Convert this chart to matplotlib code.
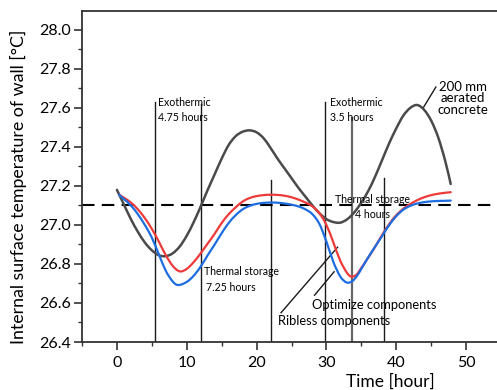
import matplotlib
matplotlib.use("Agg")
import matplotlib.pyplot as plt
from matplotlib.ticker import MultipleLocator
from matplotlib.path import Path
from matplotlib.patches import PathPatch

plt.rcParams['font.family'] = ['Lato', 'DejaVu Sans']

# ---- data ----
concrete_x = [0, 1, 2, 3, 4, 5, 6, 7, 8, 9, 10, 11, 12, 13, 14, 15, 16, 17, 18, 19, 20, 21, 22, 23,
              24, 25, 26, 27, 28, 29, 30, 31, 32, 33, 34, 35, 36, 37, 38, 39, 40, 41, 42, 43, 44, 45,
              46, 47, 47.8]
concrete_y = [27.18, 27.105, 27.03, 26.965, 26.91, 26.87, 26.845, 26.84, 26.855, 26.89, 26.945, 27.015,
              27.095, 27.18, 27.26, 27.34, 27.41, 27.455, 27.478, 27.485, 27.475, 27.445, 27.395, 27.34,
              27.29, 27.24, 27.19, 27.145, 27.10, 27.06, 27.03, 27.015, 27.012, 27.03, 27.065, 27.115,
              27.175, 27.25, 27.335, 27.42, 27.495, 27.56, 27.60, 27.615, 27.59, 27.535, 27.45, 27.33, 27.21]

ribless_x = [0.3, 1, 2, 3, 4, 5, 6, 7, 8, 9, 10, 11, 12, 13, 14, 15, 16, 17, 18, 19, 20, 21, 22, 23, 24,
             25, 26, 27, 28, 29, 30, 31, 32, 33, 33.6, 34.3, 35, 36, 37, 38, 39, 40, 41, 42, 43, 44, 45,
             46, 47, 47.8]
ribless_y = [27.155, 27.14, 27.115, 27.08, 27.035, 26.98, 26.915, 26.845, 26.79, 26.762, 26.775, 26.81,
             26.855, 26.905, 26.955, 27.01, 27.055, 27.09, 27.12, 27.138, 27.148, 27.153, 27.155, 27.154,
             27.15, 27.142, 27.13, 27.115, 27.095, 27.06, 27.0, 26.91, 26.815, 26.752, 26.735, 26.745, 26.78,
             26.833, 26.89, 26.95, 27.005, 27.05, 27.083, 27.107, 27.127, 27.142, 27.153, 27.16, 27.165, 27.168]

optimize_x = [0.3, 1, 2, 3, 4, 5, 6, 7, 8, 8.8, 10, 11, 12, 13, 14, 15, 16, 17, 18, 19, 20, 21, 22, 23,
              24, 25, 26, 27, 28, 29, 30, 31, 32, 32.9, 33.7, 34.4, 35, 36, 37, 38, 39, 40, 41, 42, 43,
              44, 45, 46, 47, 47.8]
optimize_y = [27.155, 27.133, 27.1, 27.055, 27.0, 26.935, 26.85, 26.765, 26.71, 26.692, 26.708, 26.74,
              26.787, 26.845, 26.9, 26.958, 27.01, 27.05, 27.08, 27.098, 27.108, 27.113, 27.115, 27.114,
              27.11, 27.104, 27.095, 27.08, 27.055, 27.005, 26.915, 26.81, 26.735, 26.705, 26.712, 26.74,
              26.775, 26.835, 26.89, 26.945, 27.0, 27.045, 27.078, 27.098, 27.11, 27.117, 27.121, 27.123,
              27.124, 27.125]

reference_temp = 27.1
marker_x = [5.4, 12.1, 22.1, 29.8, 33.7, 38.2]
marker_top = [27.63, 27.62, 27.23, 27.63, 27.55, 27.24]

xticks = [0, 10, 20, 30, 40, 50]
yticks = [26.4, 26.6, 26.8, 27.0, 27.2, 27.4, 27.6, 27.8, 28.0]


def smooth_path(xs, ys):
    """Catmull-Rom curve through the data points, drawn as cubic Bezier segments."""
    pts = list(zip(xs, ys))
    verts = [pts[0]]
    codes = [Path.MOVETO]
    n = len(pts)
    for i in range(n - 1):
        p0 = pts[i - 1] if i > 0 else pts[i]
        p1 = pts[i]
        p2 = pts[i + 1]
        p3 = pts[i + 2] if i + 2 < n else pts[i + 1]
        c1 = (p1[0] + (p2[0] - p0[0]) / 6.0, p1[1] + (p2[1] - p0[1]) / 6.0)
        c2 = (p2[0] - (p3[0] - p1[0]) / 6.0, p2[1] - (p3[1] - p1[1]) / 6.0)
        verts += [c1, c2, p2]
        codes += [Path.CURVE4, Path.CURVE4, Path.CURVE4]
    return Path(verts, codes)


# ---- figure ----
fig = plt.figure(figsize=(4.97, 3.90), dpi=100)
ax = fig.add_axes([82/497, 48/390, 419/497, 331/390])
ax.set_xlim(-5, 55)
ax.set_ylim(26.4, 28.097)

spine_col = '#333333'
for s in ['left', 'top', 'bottom']:
    ax.spines[s].set_color(spine_col)
    ax.spines[s].set_linewidth(1.3)
ax.spines['right'].set_visible(False)

ax.set_xticks(xticks)
ax.set_yticks(yticks)
ax.set_yticklabels([f"{v:.1f}" for v in yticks])
ax.xaxis.set_minor_locator(MultipleLocator(5))
ax.yaxis.set_minor_locator(MultipleLocator(0.1))
ax.tick_params(which='major', direction='out', length=6, width=1.2, color=spine_col,
               labelsize=11.5, pad=2)
ax.tick_params(which='minor', direction='out', length=3, width=1.0, color=spine_col)
ax.tick_params(axis='x', which='major', pad=4)

# vertical marker lines
for i, (mx, mt) in enumerate(zip(marker_x, marker_top)):
    if i == 4:
        ax.plot([mx, mx], [26.4, mt], color='#666666', lw=1.6, zorder=1)
    else:
        ax.plot([mx, mx], [26.4, mt], color='#1a1a1a', lw=1.0, zorder=1)

ax.axhline(reference_temp, color='black', lw=1.5, ls=(0, (6, 3.5)), zorder=2)

for xs, ys, col, lw, z in [(concrete_x, concrete_y, '#4a4a4a', 1.8, 3),
                           (ribless_x, ribless_y, '#ee3a3a', 1.6, 4),
                           (optimize_x, optimize_y, '#1e6de0', 1.6, 5)]:
    ax.add_patch(PathPatch(smooth_path(xs, ys), facecolor='none', edgecolor=col, lw=lw,
                           zorder=z, capstyle='round', joinstyle='round'))

# annotations
small = 7.6
ax.text(5.86, 27.626, "Exothermic", fontsize=small, va='center', ha='left')
ax.text(5.86, 27.55, "4.75 hours", fontsize=small, va='center', ha='left')
ax.text(30.57, 27.626, "Exothermic", fontsize=small, va='center', ha='left')
ax.text(30.57, 27.55, "3.5 hours", fontsize=small, va='center', ha='left')
ax.text(12.43, 26.764, "Thermal storage", fontsize=small, va='center', ha='left')
ax.text(12.7, 26.68, "7.25 hours", fontsize=small, va='center', ha='left')
ax.text(36.6, 27.133, "Thermal storage", fontsize=small, va='center', ha='center')
ax.text(36.6, 27.056, "4 hours", fontsize=small, va='center', ha='center')

ax.text(49.6, 27.65, "200 mm\naerated\nconcrete", fontsize=9.5, va='center', ha='center',
        linespacing=0.95)
ax.plot([43.85, 45.67], [27.60, 27.707], color='#1a1a1a', lw=1.0)

ax.text(28.0, 26.59, "Optimize components", fontsize=9.3, va='center', ha='left')
ax.plot([28.3, 31.1], [26.64, 26.76], color='#1a1a1a', lw=1.0)
ax.text(23.0, 26.508, "Ribless components", fontsize=9.3, va='center', ha='left')
ax.plot([23.5, 31.6], [26.55, 26.886], color='#1a1a1a', lw=1.0)

ax.set_xlabel("Time [hour]", fontsize=12.5)
ax.xaxis.set_label_coords((390 - 82) / 419, -0.095)
ax.set_ylabel("Internal surface temperature of wall [°C]", fontsize=12.8)
ax.yaxis.set_label_coords(-0.132, 0.47)

fig.savefig("out.png", dpi=100)
